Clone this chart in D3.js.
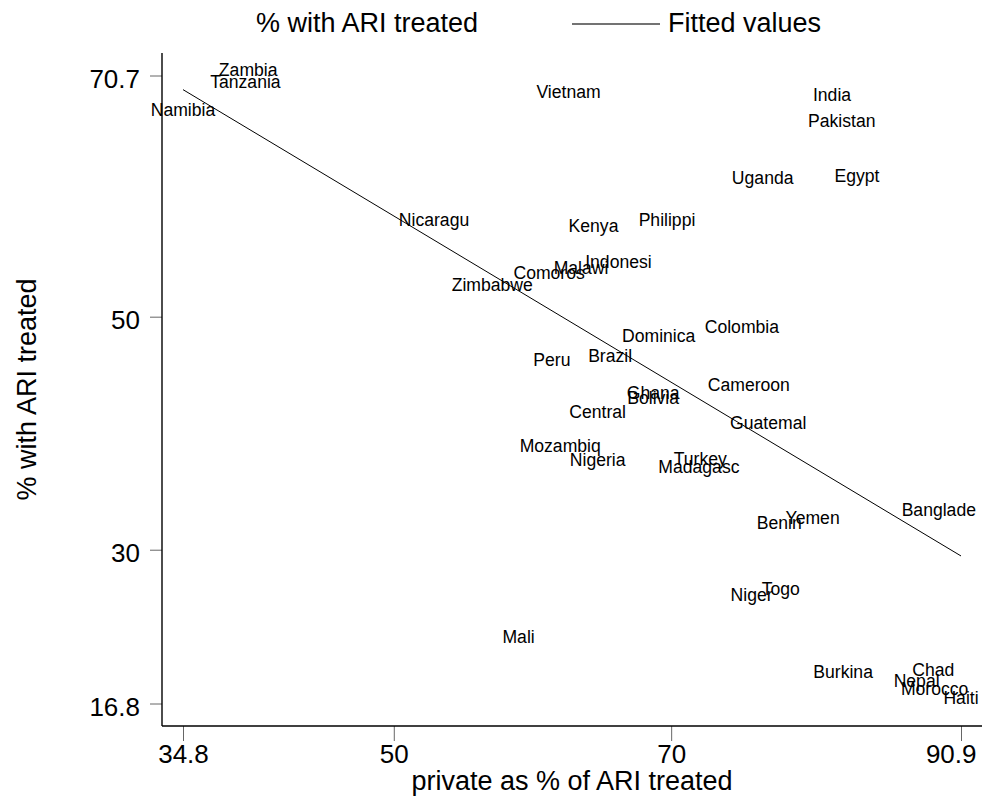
<!DOCTYPE html>
<html>
<head>
<meta charset="utf-8">
<script src="https://cdn.jsdelivr.net/npm/d3@7"></script>
<style>
  body { margin: 0; background: #fff; }
  svg { display: block; font-family: "Liberation Sans", Arial, Helvetica, sans-serif; }
</style>
</head>
<body>
<svg id="chart" width="982" height="800"></svg>
<script>
// country labels (truncated as in the source), x = private share, y = % treated
const countries = ["Zambia", "Tanzania", "Namibia", "Vietnam", "India", "Pakistan", "Uganda", "Egypt",
  "Nicaragu", "Kenya", "Philippi", "Indonesi", "Malawi", "Comoros", "Zimbabwe", "Dominica", "Colombia",
  "Peru", "Brazil", "Cameroon", "Ghana", "Bolivia", "Central", "Guatemal", "Mozambiq", "Nigeria",
  "Turkey", "Madagasc", "Banglade", "Benin", "Yemen", "Togo", "Niger", "Mali", "Burkina", "Chad",
  "Nepal", "Morocco", "Haiti"];
const privateShare = [39.5, 39.3, 34.8, 62.6, 81.6, 82.3, 76.6, 83.4,
  52.9, 64.4, 69.7, 66.2, 63.5, 61.2, 57.1, 69.1, 75.1,
  61.4, 65.6, 75.6, 68.7, 68.7, 64.7, 77.0, 62.0, 64.7,
  72.1, 72.0, 89.3, 77.8, 80.2, 77.9, 75.8, 59.0, 82.4, 88.9,
  87.7, 89.0, 90.9];
const ariTreated = [70.7, 69.6, 67.2, 68.8, 68.5, 66.3, 61.4, 61.6,
  57.8, 57.3, 57.8, 54.2, 53.7, 53.2, 52.2, 47.8, 48.6,
  45.8, 46.1, 43.6, 42.9, 42.5, 41.3, 40.4, 38.4, 37.2,
  37.3, 36.6, 32.9, 31.8, 32.2, 26.1, 25.6, 22.0, 19.0, 19.2,
  18.2, 17.5, 16.8];
const xTicks = [34.8, 50, 70, 90.9];
const yTicks = [16.8, 30, 50, 70.7];
const legendLabels = ["% with ARI treated", "Fitted values"];
const xTitle = "private as % of ARI treated";
const yTitle = "% with ARI treated";

const W = 982;
const svg = d3.select("#chart");
const plot = { left: 162, right: 982, top: 53, bottom: 726 };
const padX = 21, padY = 22.5;

const x = d3.scaleLinear().domain([34.8, 90.9]).range([plot.left + padX, plot.right - padX]);
const y = d3.scaleLinear().domain([16.8, 70.7]).range([plot.bottom - padY, plot.top + padY]);

const data = countries.map((c, i) => ({ name: c, x: privateShare[i], y: ariTreated[i] }));

// least-squares fit
const mx = d3.mean(data, d => d.x), my = d3.mean(data, d => d.y);
const b = d3.sum(data, d => (d.x - mx) * (d.y - my)) / d3.sum(data, d => (d.x - mx) ** 2);
const a = my - b * mx;
const fit = d3.extent(data, d => d.x).map(v => [v, a + b * v]);

// axes
const gx = svg.append("g").attr("transform", `translate(0,${plot.bottom})`)
  .call(d3.axisBottom(x).tickValues(xTicks).tickFormat(d3.format("")).tickSize(15).tickPadding(4));
const gy = svg.append("g").attr("transform", `translate(${plot.left},0)`)
  .call(d3.axisLeft(y).tickValues(yTicks).tickFormat(d3.format("")).tickSize(12).tickPadding(10));
[gx, gy].forEach(g => {
  g.select(".domain").remove();
  g.selectAll(".tick line").attr("stroke", "#666").attr("stroke-width", 1);
  g.selectAll(".tick text").attr("fill", "#000").style("font-size", "26px")
    .style("font-family", "'Liberation Sans', Arial, sans-serif");
});
gy.selectAll(".tick text").attr("dy", "0.46em");
// last x label is pulled inside the graph edge
gx.selectAll(".tick").filter(d => d === xTicks[xTicks.length - 1]).select("text")
  .attr("text-anchor", "end").attr("x", W - 6 - x(xTicks[xTicks.length - 1]));

svg.append("line").attr("x1", plot.left).attr("x2", plot.right)
  .attr("y1", plot.bottom).attr("y2", plot.bottom).attr("stroke", "#000").attr("stroke-width", 1.4);
svg.append("line").attr("x1", plot.left).attr("x2", plot.left)
  .attr("y1", plot.top).attr("y2", plot.bottom).attr("stroke", "#000").attr("stroke-width", 1.4);

// fitted line
svg.append("path").datum(fit)
  .attr("d", d3.line().x(d => x(d[0])).y(d => y(d[1])))
  .attr("fill", "none").attr("stroke", "#000").attr("stroke-width", 1);

// marker labels, centred on the point
svg.append("g").selectAll("text").data(data).join("text")
  .attr("x", d => x(d.x)).attr("y", d => y(d.y))
  .attr("text-anchor", "middle")
  .style("font-size", "17.6px").attr("fill", "#000")
  .text(d => d.name);

// titles
svg.append("text").attr("x", (plot.left + plot.right) / 2).attr("y", 790).attr("text-anchor", "middle")
  .style("font-size", "27px").text(xTitle);
svg.append("text").attr("transform", `translate(36,${(plot.top + plot.bottom) / 2}) rotate(-90)`)
  .attr("text-anchor", "middle").style("font-size", "27px").text(yTitle);

// legend: blank key for the labels-only series, line key for the fit
const legend = svg.append("g");
legend.append("text").attr("x", 256).attr("y", 32)
  .style("font-size", "27px").text(legendLabels[0]);
legend.append("line").attr("x1", 572).attr("x2", 660).attr("y1", 24).attr("y2", 24)
  .attr("stroke", "#444").attr("stroke-width", 1.6);
legend.append("text").attr("x", 668).attr("y", 32)
  .style("font-size", "27px").text(legendLabels[1]);
</script>
</body>
</html>
